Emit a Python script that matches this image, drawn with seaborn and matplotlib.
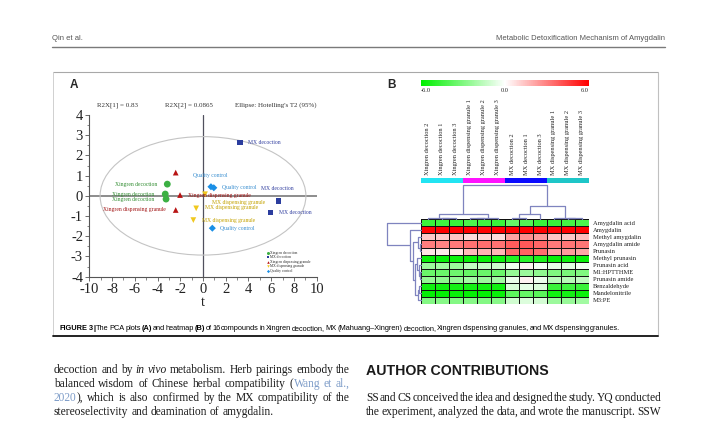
import numpy as np
import pandas as pd
import matplotlib
matplotlib.use("Agg")
import matplotlib.pyplot as plt
import seaborn as sns
from matplotlib.colors import LinearSegmentedColormap, ListedColormap
from matplotlib.patches import Ellipse
from matplotlib.ticker import MultipleLocator
from matplotlib import font_manager

# ---- data ----
groups = (["Xingren decoction"] * 3 + ["MX decoction"] * 3 + ["Xingren dispensing granule"] * 3
          + ["MX dispensing granule"] * 3 + ["Quality control"] * 3)
t1 = [-3.14, -3.32, -3.25, 3.25, 6.63, 5.95, -2.40, -2.02, -2.40, 0.18, -0.60, -0.85, 0.70, 0.95, 0.82]
t2 = [0.58, 0.09, -0.16, 2.65, -0.26, -0.82, 1.15, 0.04, -0.70, 0.08, -0.62, -1.20, 0.45, 0.40, -1.60]
point_labels = ["Xingren decoction", "Xingren decoction", "Xingren decoction",
                "MX decoction", "MX decoction", "MX decoction",
                "", "Xingren dispensing granule", "Xingren dispensing granule",
                "MX dispensing granule", "MX dispensing granule", "MX dispensing granule",
                "Quality control", "Quality control", "Quality control"]
r2x = [0.83, 0.0865]
ellipse_axes = [9.05, 2.93]  # Hotelling's T2 (95%) semi-axes

compounds = ["Amygdalin acid", "Amygdalin", "Methyl amygdalin", "Amygdalin amide", "Prunasin",
             "Methyl prunasin", "Prunasin acid", "M1:HPTTHME", "Prunasin amide", "Benzaldehyde",
             "Mandelonitrile", "M3:PE"]
samples = ["Xingren decoction 2", "Xingren decoction 1", "Xingren decoction 3",
           "Xingren dispensing granule 1", "Xingren dispensing granule 2", "Xingren dispensing granule 3",
           "MX decoction 2", "MX decoction 1", "MX decoction 3",
           "MX dispensing granule 1", "MX dispensing granule 2", "MX dispensing granule 3"]
sample_group = [0, 0, 0, 1, 1, 1, 2, 2, 2, 3, 3, 3]
heat = [
    [-4.6, -4.5, -4.6, -4.2, -4.5, -4.6, -3.6, -4.0, -4.6, -4.6, -4.4, -4.2],
    [5.9, 6.0, 6.0, 6.0, 5.9, 6.0, 6.0, 6.0, 6.0, 5.9, 6.0, 6.0],
    [1.3, 1.2, 1.4, 0.8, 0.9, 0.8, 2.2, 2.6, 2.3, 1.4, 1.3, 1.5],
    [3.0, 2.9, 3.1, 3.3, 3.4, 3.3, 3.8, 3.9, 3.6, 3.1, 3.2, 3.2],
    [0.6, 0.5, 0.6, 1.6, 1.8, 1.7, 3.5, 3.7, 3.4, 2.2, 2.3, 2.1],
    [-5.8, -5.8, -5.7, -5.8, -5.8, -5.7, -5.2, -5.0, -5.3, -5.8, -5.7, -5.8],
    [-2.3, -2.2, -2.3, -1.4, -1.3, -1.2, -0.4, 0.3, -0.2, -0.6, -0.7, -0.3],
    [-3.5, -3.5, -3.4, -3.6, -3.5, -3.5, -2.5, -2.3, -2.6, -3.0, -3.1, -3.0],
    [-2.5, -2.6, -2.5, -2.2, -2.3, -2.2, -0.5, 0.3, -0.4, -1.6, -1.7, -1.5],
    [-5.6, -5.6, -5.5, -5.5, -5.6, -5.6, -0.9, -0.6, -0.8, -4.6, -4.5, -4.6],
    [-5.9, -5.9, -5.8, -5.9, -5.9, -5.8, -3.8, -3.6, -3.9, -5.6, -5.5, -5.7],
    [-2.9, -2.8, -2.9, -2.8, -2.9, -2.8, -1.1, -0.8, -1.0, -2.3, -2.4, -2.2],
]
# linkage merges (child a, child b, height), leaves in display order
col_merges = [(1, 2, 0.8), (0, 12, 1.6), (3, 4, 0.8), (14, 5, 1.6), (13, 15, 5.0),
              (6, 7, 1.0), (17, 8, 5.0), (10, 11, 0.8), (9, 19, 1.6), (18, 20, 13.0), (16, 21, 34.0)]
row_merges = [(3, 4, 0.6), (2, 12, 1.2), (7, 8, 0.5), (6, 14, 0.9), (5, 15, 1.8), (9, 10, 0.7),
              (17, 11, 1.3), (16, 18, 2.6), (13, 19, 3.4), (1, 20, 4.6), (0, 21, 14.0)]

W, H = 706, 423
names = {f.name for f in font_manager.fontManager.ttflist}
NARROW = "Liberation Sans Narrow" if "Liberation Sans Narrow" in names else "Liberation Sans"
SERIF = "Liberation Serif"
SANS = "Liberation Sans"

sns.set_style("white")
plt.rcParams["axes.unicode_minus"] = False
plt.rcParams["font.family"] = [SERIF, "DejaVu Sans"]

fig = plt.figure(figsize=(W / 100, H / 100), dpi=100)


def box(x0, y0, x1, y1):
    return [x0 / W, 1 - y1 / H, (x1 - x0) / W, (y1 - y0) / H]


# page layer in pixel coordinates
page = fig.add_axes([0, 0, 1, 1])
page.set_xlim(0, W)
page.set_ylim(H, 0)
page.axis("off")
page.patch.set_alpha(0)
renderer = fig.canvas.get_renderer()

page.plot([52, 665], [47, 47], color="#7a7a7a", lw=1.0)
page.text(52, 38, "Qin et al.", family=SANS, size=5.5, color="#555555", va="center")
page.text(665, 38, "Metabolic Detoxification Mechanism of Amygdalin", family=SANS, size=5.5,
          color="#555555", va="center", ha="right")
page.plot([53, 658], [72, 72], color="#a8a8a8", lw=0.8)
page.plot([53, 53], [72, 336], color="#d0d0d0", lw=0.7)
page.plot([658, 658], [72, 336], color="#c0c0c0", lw=0.8)
page.plot([53, 658], [336, 336], color="#111111", lw=1.3)


def run_width(s, kw):
    t = page.text(0, 0, s, **kw)
    w = t.get_window_extent(renderer=renderer).width
    t.remove()
    return w


def words_of(segments):
    words = [[]]
    for txt, st in segments:
        for k, p in enumerate(txt.split(" ")):
            if k > 0:
                words.append([])
            if p:
                words[-1].append((p, st))
    return [w for w in words if w]


def line_parts(segments, styles):
    words = words_of(segments)
    widths = [[run_width(p, styles[st]) for p, st in w] for w in words]
    base = styles[segments[0][1]]
    space = run_width("a a", base) - run_width("aa", base)
    return words, widths, space


def draw_line(segments, styles, x0, x1, y, justify=True, gap_scale=1.0):
    words, widths, space = line_parts(segments, styles)
    total = sum(sum(w) for w in widths)
    gap = (x1 - x0 - total) / (len(words) - 1) if justify and len(words) > 1 else space * gap_scale
    x = x0
    for w, ws in zip(words, widths):
        for (p, st), pw in zip(w, ws):
            page.text(x, y, p, va="baseline", ha="left", **styles[st])
            x += pw
        x += gap


def cap_style(size):
    return {"n": dict(family=NARROW, size=size, color="black"),
            "b": dict(family=NARROW, size=size, color="black", weight="bold")}


# caption, sized to the width of the figure box
cap_segments = [("FIGURE 3 |", "b"), (" The PCA plots ", "n"), ("(A)", "b"), (" and heatmap ", "n"),
                ("(B)", "b"), (" of 16 compounds in Xingren decoction, MX (Mahuang\u2013Xingren) decoction, "
                              "Xingren dispensing granules, and MX dispensing granules.", "n")]
CAP_GAP = 0.35
words, widths, space = line_parts(cap_segments, cap_style(5.0))
nat = sum(sum(w) for w in widths) + (len(words) - 1) * space * CAP_GAP
draw_line(cap_segments, cap_style(5.0 * 571 / nat), 60, 631, 330, justify=False, gap_scale=CAP_GAP)

# body text
BS = 8.3
body = {"n": dict(family=SERIF, size=BS, color="#1a1a1a"),
        "i": dict(family=SERIF, size=BS, color="#1a1a1a", style="italic"),
        "c": dict(family=SERIF, size=BS, color="#7d9cc8")}
left_lines = [
    [("decoction and by ", "n"), ("in vivo", "i"), (" metabolism. Herb pairings embody the", "n")],
    [("balanced wisdom of Chinese herbal compatibility (", "n"), ("Wang et al.,", "c")],
    [("2020", "c"), ("), which is also confirmed by the MX compatibility of the", "n")],
    [("stereoselectivity and deamination of amygdalin.", "n")],
]
for k, ln in enumerate(left_lines):
    draw_line(ln, body, 54, 350, 373 + 14 * k, justify=k < 3)
page.text(366, 371, "AUTHOR CONTRIBUTIONS", family=SANS, weight="bold", size=10.2,
          color="#1a1a1a", va="center")
right_lines = [
    [("SS and CS conceived the idea and designed the study. YQ conducted", "n")],
    [("the experiment, analyzed the data, and wrote the manuscript. SSW", "n")],
]
for k, ln in enumerate(right_lines):
    draw_line(ln, body, 366, 661, 401 + 14 * k)

# ---- panel A: PCA score plot ----
page.text(70, 85, "A", family=SANS, weight="bold", size=8.5, va="center")
page.text(97, 105, f"R2X[1] = {r2x[0]}", size=5, color="#333333", va="center")
page.text(165, 105, f"R2X[2] = {r2x[1]}", size=5, color="#333333", va="center")
page.text(235, 105, "Ellipse: Hotelling's T2 (95%)", size=5, color="#333333", va="center")

ax = fig.add_axes(box(89.3, 115, 316.7, 276.7))
ax.patch.set_alpha(0)
pca = pd.DataFrame({"t1": t1, "t2": t2, "group": groups})
order = ["Xingren decoction", "MX decoction", "Xingren dispensing granule", "MX dispensing granule",
         "Quality control"]
palette = {"Xingren decoction": "#3cb043", "MX decoction": "#2b3d9e",
           "Xingren dispensing granule": "#b81414", "MX dispensing granule": "#f0c81e",
           "Quality control": "#1a8fe6"}
markers = {"Xingren decoction": "o", "MX decoction": "s", "Xingren dispensing granule": "^",
           "MX dispensing granule": "v", "Quality control": "D"}
sizes = {"Xingren decoction": 24, "MX decoction": 15, "Xingren dispensing granule": 17,
         "MX dispensing granule": 17, "Quality control": 13}
label_colors = {"Xingren decoction": "#2e8b2e", "MX decoction": "#3340a0",
                "Xingren dispensing granule": "#a01010", "MX dispensing granule": "#c4a200",
                "Quality control": "#3a8fd0"}

ax.axhline(0, color="#8c8c8c", lw=1.4, zorder=1)
ax.axvline(0, color="#50505e", lw=0.9, zorder=1)
ax.add_patch(Ellipse((0, 0), 2 * ellipse_axes[0], 2 * ellipse_axes[1], fill=False,
                     ec="#c4c4c4", lw=0.8, zorder=1))
sns.scatterplot(data=pca, x="t1", y="t2", hue="group", style="group", size="group",
                hue_order=order, style_order=order, size_order=order,
                palette=palette, markers=markers, sizes=sizes, edgecolor="none",
                ax=ax, legend=True, zorder=3)

offsets = [(-0.9, 0, "right"), (-1.0, 0, "right"), (-1.0, 0, "right"),
           (0.7, 0, "left"), (-0.1, 0.63, "center"), (0.73, 0, "left"),
           (0, 0, "left"), (0.7, 0, "left"), (-0.9, 0, "right"),
           (0.58, -0.42, "left"), (0.78, 0.03, "left"), (0.73, 0, "left"),
           (-0.1, 0.58, "center"), (0.7, 0, "left"), (0.7, 0, "left")]
for x, y, g, lab, (dx, dy, ha) in zip(t1, t2, groups, point_labels, offsets):
    if lab:
        ax.text(x + dx, y + dy, lab, ha=ha, va="center", size=4.1, color=label_colors[g], zorder=4)

sns.move_legend(ax, "upper left", bbox_to_anchor=(5.6, -2.72), bbox_transform=ax.transData,
                title=None, fontsize=2.6, markerscale=0.45, frameon=False, handlelength=0.5,
                handletextpad=0.3, labelspacing=0.15, borderpad=0, borderaxespad=0)

ax.set_xlim(-10, 10)
ax.set_ylim(-4, 4)
ax.xaxis.set_major_locator(MultipleLocator(2))
ax.xaxis.set_minor_locator(MultipleLocator(1))
ax.yaxis.set_major_locator(MultipleLocator(1))
ax.yaxis.set_minor_locator(MultipleLocator(0.5))
for side in ["top", "right"]:
    ax.spines[side].set_visible(False)
for side in ["left", "bottom"]:
    ax.spines[side].set_color("#555555")
    ax.spines[side].set_linewidth(0.8)
ax.tick_params(which="major", length=3, width=0.6, direction="out", pad=1.5, labelsize=10.5,
               colors="#555555", labelcolor="#222222", left=True, bottom=True)
ax.tick_params(which="minor", length=1.8, width=0.5, direction="out", colors="#555555",
               left=True, bottom=True)
ax.set_xlabel("t", size=10.5, labelpad=0)
ax.set_ylabel("")

# ---- panel B: heatmap with dendrograms ----
page.text(387, 85, "B", family=SANS, weight="bold", size=8.5, va="center")
cmap = LinearSegmentedColormap.from_list("gwr", ["#00f000", "#ffffff", "#ff0000"])
heat_df = pd.DataFrame(heat, index=compounds, columns=samples)

ax_cb = fig.add_axes(box(421, 80, 589, 85.7))
ax_hm = fig.add_axes(box(421, 219.3, 589.3, 304))
sns.heatmap(heat_df, ax=ax_hm, cmap=cmap, vmin=-6, vmax=6, center=0, linewidths=0.7,
            linecolor="#111111", cbar_ax=ax_cb, cbar_kws={"orientation": "horizontal"},
            xticklabels=False, yticklabels=True)
ax_cb.set_xticks([])
for sp in ax_cb.spines.values():
    sp.set_visible(False)
cbar = ax_hm.collections[0].colorbar
if cbar is not None:
    cbar.outline.set_visible(False)
page.text(421, 91, "-6.0", size=4.6, ha="left", va="center")
page.text(505, 91, "0.0", size=4.6, ha="center", va="center")
page.text(589, 91, "6.0", size=4.6, ha="right", va="center")

ax_hm.yaxis.tick_right()
ax_hm.set_yticklabels(compounds, rotation=0, size=4.7, color="#222222")
ax_hm.tick_params(axis="y", length=0, pad=2.5)
ax_hm.set_xlabel("")
ax_hm.set_ylabel("")

ax_strip = fig.add_axes(box(421, 177.7, 589, 183.3))
strip_colors = ["#22e4f2", "#ff12ff", "#0a0aff", "#1ec6c8"]
sns.heatmap(pd.DataFrame([sample_group], columns=samples), ax=ax_strip,
            cmap=ListedColormap(strip_colors), vmin=-0.5, vmax=3.5, cbar=False,
            xticklabels=True, yticklabels=False)
ax_strip.xaxis.tick_top()
ax_strip.set_xticklabels(samples, rotation=90, size=4.6, color="#222222")
ax_strip.tick_params(axis="x", length=0, pad=2.2)
ax_strip.set_xlabel("")
ax_strip.set_ylabel("")


def draw_dendrogram(axd, merges, n, columns):
    pos = {i: i + 0.5 for i in range(n)}
    hgt = {i: 0.0 for i in range(n)}
    for k, (a, b, h) in enumerate(merges):
        xs = [pos[a], pos[a], pos[b], pos[b]]
        ys = [hgt[a], h, h, hgt[b]]
        if columns:
            axd.plot(xs, ys, color="#7f84bf", lw=0.9, clip_on=False)
        else:
            axd.plot(ys, xs, color="#7f84bf", lw=0.9, clip_on=False)
        pos[n + k] = (pos[a] + pos[b]) / 2
        hgt[n + k] = h
    axd.axis("off")


ax_cd = fig.add_axes(box(421, 183.3, 589.3, 219.3))
draw_dendrogram(ax_cd, col_merges, len(samples), True)
ax_cd.set_xlim(0, len(samples))
ax_cd.set_ylim(0, 35.5)

ax_rd = fig.add_axes(box(386.5, 219.3, 421, 304))
draw_dendrogram(ax_rd, row_merges, len(compounds), False)
ax_rd.set_xlim(14, 0)
ax_rd.set_ylim(len(compounds), 0)

fig.savefig("out.png", dpi=100)
